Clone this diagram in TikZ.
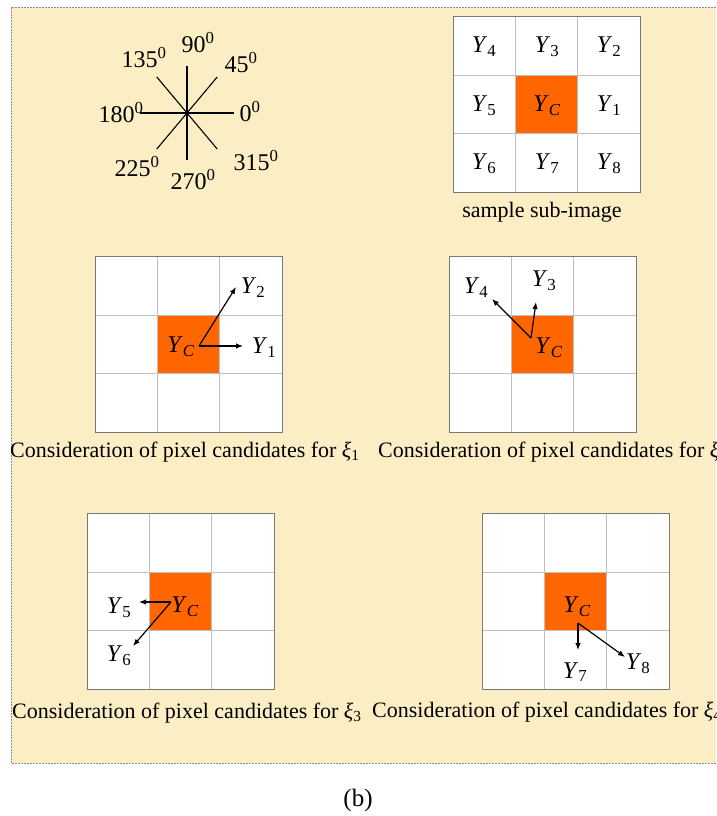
\documentclass[tikz,border=0pt]{standalone}
\usepackage{fontspec}
\setmainfont{Liberation Serif}
\usetikzlibrary{arrows.meta,positioning}
\definecolor{paper}{RGB}{252,238,196}
\definecolor{pixorange}{RGB}{255,102,0}
\definecolor{gridline}{RGB}{192,192,192}
\definecolor{gridframe}{RGB}{120,120,120}
\definecolor{dotgray}{RGB}{140,140,140}

% 3x3 sub-image, top left corner at (#1,#2)
\newcommand{\subimg}[2]{%
  \begin{scope}[shift={(#1,#2)}]
    \fill[white] (0,0) rectangle (187,176);
    \fill[pixorange] (62.3,58.7) rectangle (124.6,117.4);
    \foreach \k in {1,2} {
      \draw[gridline] (62.3*\k,0) -- (62.3*\k,176);
      \draw[gridline] (0,58.7*\k) -- (187,58.7*\k);
    }
    \draw[gridframe] (0,0) rectangle (187,176);
  \end{scope}}
\newcommand{\Yl}[1]{\textit{Y}\textsubscript{#1}}
\newcommand{\Yc}{\textit{Y}\textsubscript{\textit{C}}}

\begin{document}
\begin{tikzpicture}[
  x=1pt,y=-1pt,
  font=\fontsize{22}{26}\selectfont,
  frame/.style={draw=dotgray,line width=1pt,dash pattern=on 1.6pt off 1.4pt},
  arr/.style={-{Latex[length=7pt,width=5.5pt]},line width=1.2pt},
  spoke/.style={line width=1.1pt},
  lbl/.style={inner sep=1pt,font=\fontsize{24}{28}\selectfont},
  capt/.style={anchor=west,inner sep=0pt},
]
\useasboundingbox (0,0) rectangle (716,816);
\clip (0,0) rectangle (716,816);

% background panel
\fill[paper] (11,8) rectangle (716,763);
\draw[frame] (716,8) -- (11,8) -- (11,763) -- (716,763);

% direction star
\coordinate (hub) at (187,113);
\foreach \a in {0,50,90,130,180,230,270,310}
  \draw[spoke] (hub) -- ++(\a:47);
\node[lbl] (d0) at (250,112) {0\textsuperscript{0}};
\node[lbl] (d45) at (241,63) {45\textsuperscript{0}};
\node[lbl] (d90) at (198,43) {90\textsuperscript{0}};
\node[lbl] (d135) at (144,58) {135\textsuperscript{0}};
\node[lbl] (d180) at (121,113) {180\textsuperscript{0}};
\node[lbl] (d225) at (137,167) {225\textsuperscript{0}};
\node[lbl] (d270) at (193,180) {270\textsuperscript{0}};
\node[lbl] (d315) at (256,161) {315\textsuperscript{0}};

% sample sub-image
\subimg{453}{16}
\node[lbl] (s4) at (484,47) {\Yl{4}};
\node[lbl] (s3) at (547,47) {\Yl{3}};
\node[lbl] (s2) at (609,47) {\Yl{2}};
\node[lbl] (s5) at (484,106) {\Yl{5}};
\node[lbl] (sc) at (547,106) {\Yc};
\node[lbl] (s1) at (609,106) {\Yl{1}};
\node[lbl] (s6) at (484,164) {\Yl{6}};
\node[lbl] (s7) at (547,164) {\Yl{7}};
\node[lbl] (s8) at (609,164) {\Yl{8}};
\node (stitle) at (542,212) {sample sub-image};

% xi 1
\subimg{95}{256}
\coordinate (o1) at (199,346);
\coordinate (e2) at (236,287);
\coordinate (e1) at (243,346);
\node[lbl] (ac) at (181,347) {\Yc};
\node[lbl] (a2) at (253,288) {\Yl{2}};
\node[lbl] (a1) at (264,348) {\Yl{1}};
\draw[arr] (o1) -- (e2);
\draw[arr] (o1) -- (e1);
\node[capt] (capa) at (10,452) {Consideration of pixel candidates for \textit{ξ}\textsubscript{1}};

% xi 2
\subimg{449}{256}
\coordinate (o2) at (531,338);
\coordinate (e4) at (492,299);
\coordinate (e3) at (536,302);
\node[lbl] (bc) at (549,348) {\Yc};
\node[lbl] (b4) at (476,288) {\Yl{4}};
\node[lbl] (b3) at (544,281) {\Yl{3}};
\draw[arr] (o2) -- (e4);
\draw[arr] (o2) -- (e3);
\node[capt] (capb) at (378,452) {Consideration of pixel candidates for \textit{ξ}\textsubscript{2}};

% xi 3
\subimg{87}{513}
\coordinate (o3) at (171,602);
\coordinate (e5) at (139,602);
\coordinate (e6) at (133,646);
\node[lbl] (cc) at (185,607) {\Yc};
\node[lbl] (c5) at (119,608) {\Yl{5}};
\node[lbl] (c6) at (119,656) {\Yl{6}};
\draw[arr] (o3) -- (e5);
\draw[arr] (o3) -- (e6);
\node[capt] (capc) at (12,713) {Consideration of pixel candidates for \textit{ξ}\textsubscript{3}};

% xi 4
\subimg{482}{513}
\coordinate (o4) at (578,623);
\coordinate (e7) at (578,650);
\coordinate (e8) at (625,657);
\node[lbl] (dc) at (577,607) {\Yc};
\node[lbl] (d7) at (575,672) {\Yl{7}};
\node[lbl] (d8) at (638,664) {\Yl{8}};
\draw[arr] (o4) -- (e7);
\draw[arr] (o4) -- (e8);
\node[capt] (capd) at (372,712) {Consideration of pixel candidates for \textit{ξ}\textsubscript{4}};

\node[font=\fontsize{25}{30}\selectfont] (tag) at (358,800) {(b)};
\end{tikzpicture}
\end{document}
